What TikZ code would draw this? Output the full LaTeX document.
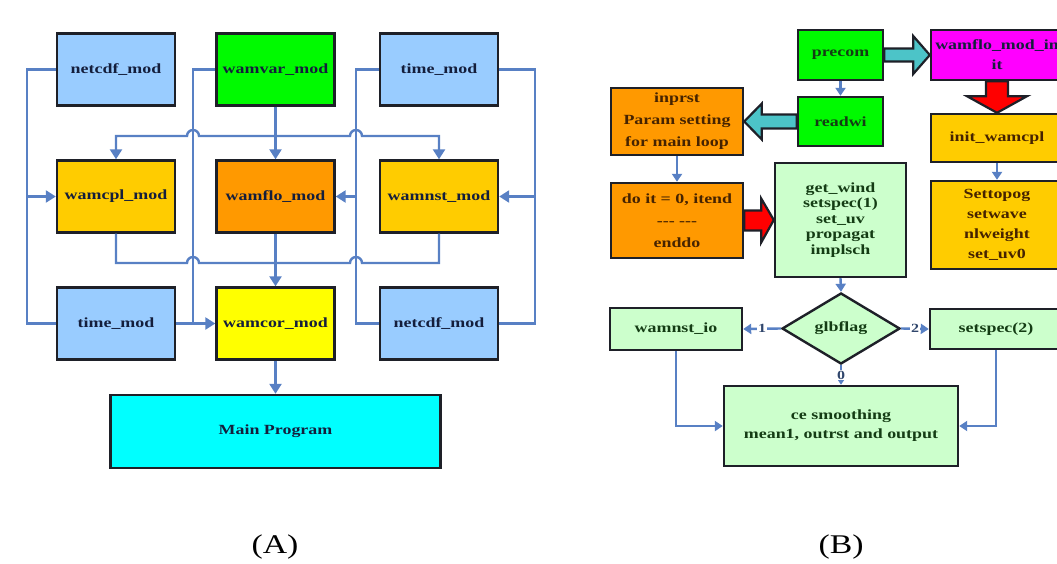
\documentclass[tikz,border=0pt]{standalone}
\usepackage{fontspec}
\usetikzlibrary{arrows.meta,shapes.geometric,calc}
\newfontfamily\boxfont{Liberation Serif}[FakeStretch=1.28]
\newfontfamily\labfont{Liberation Serif}[FakeStretch=1.25]
\definecolor{lblue}{RGB}{153,204,255}
\definecolor{vgreen}{RGB}{0,250,0}
\definecolor{gold}{RGB}{255,204,0}
\definecolor{orng}{RGB}{255,153,0}
\definecolor{yel}{RGB}{255,255,0}
\definecolor{cyn}{RGB}{0,255,255}
\definecolor{magn}{RGB}{255,0,255}
\definecolor{lgreen}{RGB}{204,255,204}
\definecolor{linec}{RGB}{88,128,196}
\definecolor{bord}{RGB}{30,32,40}
\definecolor{teal}{RGB}{76,196,200}
\definecolor{txtA}{RGB}{20,30,60}
\definecolor{txtG}{RGB}{20,60,20}
\definecolor{txtO}{RGB}{70,35,0}
\begin{document}
\begin{tikzpicture}[x=1pt,y=-1pt,
  box/.style={draw=bord,line width=2.4pt,inner sep=2pt,align=center,
    font=\boxfont\bfseries\fontsize{14}{15.5}\selectfont},
  boxA/.style={box,minimum width=118pt,minimum height=72pt,text=txtA},
  conn/.style={draw=linec,line width=2.4pt},
  tip/.style={-{Triangle[length=10pt,width=12pt]}},
  smalltip/.style={-{Triangle[length=8pt,width=10pt]}},
  lab/.style={font=\boxfont\bfseries\fontsize{12.5}{12.5}\selectfont,text=linec!55!black,fill=white,inner sep=1pt},
  fatarrow/.style={draw=bord,line width=2.2pt,line join=miter},
]
\useasboundingbox (0,0) rectangle (1057,563);
\fill[white] (0,0) rectangle (1057,563);

% ---------------- Panel A ----------------
\node[boxA,fill=lblue] (nc1) at (116,69.5) {netcdf\_mod};
\node[boxA,fill=vgreen] (wv) at (275.5,69.5) {wamvar\_mod};
\node[boxA,fill=lblue] (tm1) at (439,69.5) {time\_mod};
\node[boxA,fill=gold] (wc) at (116,196.5) {wamcpl\_mod};
\node[boxA,fill=orng] (wf) at (275.5,196.5) {wamflo\_mod};
\node[boxA,fill=gold] (wn) at (439,196.5) {wamnst\_mod};
\node[boxA,fill=lblue] (tm2) at (116,323.5) {time\_mod};
\node[boxA,fill=yel] (wcor) at (275.5,323.5) {wamcor\_mod};
\node[boxA,fill=lblue] (nc2) at (439,323.5) {netcdf\_mod};
\node[boxA,fill=cyn,minimum width=330pt,minimum height=73pt] (main) at (275.5,431.5) {Main Program};

\coordinate (cL) at (27,196.5);
\coordinate (cM) at (356,196.5);
\coordinate (cR) at (535,196.5);

% left vertical bus
\draw[conn] (nc1.west) -- (27,69.5) -- (27,323.5) -- (tm2.west);
\draw[conn,tip] (cL) -- (wc.west);
% second vertical bus (wamvar)
\draw[conn] (wv.west) -- (193,69.5) -- (193,323.5);
\draw[conn,tip] (tm2.east) -- (wcor.west);
% third vertical bus
\draw[conn] (tm1.west) -- (356,69.5) -- (356,323.5) -- (nc2.west);
\draw[conn,tip] (cM) -- (wf.east);
% right vertical bus
\draw[conn] (tm1.east) -- (535,69.5) -- (535,323.5) -- (nc2.east);
\draw[conn,tip] (cR) -- (wn.east);
% wamvar down
\draw[conn,tip] (wv.south) -- (wf.north);
% upper horizontal with bridges
\draw[conn,{Triangle[length=10pt,width=12pt]}-{Triangle[length=10pt,width=12pt]}]
  (wc.north) -- (116,136) -- (187,136) arc[start angle=180,end angle=0,radius=6pt]
  -- (350,136) arc[start angle=180,end angle=0,radius=6pt] -- (439,136) -- (wn.north);
% lower horizontal with bridges
\draw[conn] (wc.south) -- (116,263) -- (187,263) arc[start angle=180,end angle=0,radius=6pt]
  -- (350,263) arc[start angle=180,end angle=0,radius=6pt] -- (439,263) -- (wn.south);
\draw[conn,tip] (wf.south) -- (wcor.north);
\draw[conn,tip] (wcor.south) -- (main.north);

\node[font=\labfont\fontsize{27}{30}\selectfont] (la) at (275,547) {(A)};

% ---------------- Panel B ----------------
\begin{scope}
\clip (0,0) rectangle (1057,563);
\node[box,fill=vgreen,text=txtG,minimum width=85pt,minimum height=50pt] (precom) at (840.5,55) {precom};
\node[box,fill=magn,text=txtA,minimum width=132pt,minimum height=50pt,font=\boxfont\bfseries\fontsize{14}{20}\selectfont] (wfi) at (997,55) {wamflo\_mod\_in\\it};
\node[box,fill=vgreen,text=txtG,minimum width=85pt,minimum height=49pt] (readwi) at (840.5,121.5) {readwi};
\node[box,fill=orng,text=txtO,minimum width=132pt,minimum height=67pt,font=\boxfont\bfseries\fontsize{14}{22}\selectfont] (inprst) at (677,121.5) {inprst\\Param setting\\for main loop};
\node[box,fill=orng,text=txtO,minimum width=132pt,minimum height=75pt,font=\boxfont\bfseries\fontsize{14}{22}\selectfont] (doit) at (677,220.5) {do it = 0, itend\\--- ---\\enddo};
\node[box,fill=lgreen,text=txtG,minimum width=131pt,minimum height=114pt] (gw) at (840.5,220) {get\_wind\\setspec(1)\\set\_uv\\propagat\\implsch};
\node[box,fill=gold,text=txtO,minimum width=132pt,minimum height=48pt] (iw) at (997,138) {init\_wamcpl};
\node[box,fill=gold,text=txtO,minimum width=132pt,minimum height=88pt,font=\boxfont\bfseries\fontsize{14}{20}\selectfont] (st) at (997,225) {Settopog\\setwave\\nlweight\\set\_uv0};
\node[box,diamond,fill=lgreen,text=txtG,minimum width=118pt,minimum height=71pt,aspect=1.66,inner sep=0pt] (gf) at (841,328.5) {glbflag};
\node[box,fill=lgreen,text=txtG,minimum width=132pt,minimum height=42pt] (wio) at (676,329) {wamnst\_io};
\node[box,fill=lgreen,text=txtG,minimum width=132pt,minimum height=40pt] (ss2) at (996,329) {setspec(2)};
\node[box,fill=lgreen,text=txtG,minimum width=234pt,minimum height=80pt,font=\boxfont\bfseries\fontsize{14}{19}\selectfont] (ce) at (841,426) {ce smoothing\\mean1, outrst and output};
\end{scope}

% thin connectors
\draw[conn,smalltip] (precom.south) -- (readwi.north);
\draw[conn,smalltip] (inprst.south) -- (doit.north);
\draw[conn,smalltip] (iw.south) -- (st.north);
\draw[conn,smalltip] (gw.south) -- (gf.north);
\draw[conn,smalltip] (gf.west) -- node[lab] {1} (wio.east);
\draw[conn,smalltip] (gf.east) -- node[lab] {2} (ss2.west);
\draw[conn,smalltip] (gf.south) -- node[lab] {0} (ce.north);
\draw[conn,smalltip] (wio.south) |- (ce.west);
\draw[conn,smalltip] (ss2.south) |- (ce.east);

% fat block arrows
\filldraw[fatarrow,fill=teal] (precom.east) ++(0,-6.5) -- ++(29,0) -- ++(0,-12.5) -- (wfi.west) -- ($(precom.east)+(29,19)$) -- ++(0,-12.5) -- ($(precom.east)+(0,6.5)$) -- cycle;
\filldraw[fatarrow,fill=teal] (readwi.west) ++(0,-7) -- ++(-35,0) -- ++(0,-11) -- (inprst.east) -- ($(readwi.west)+(-35,18)$) -- ++(0,-11) -- ($(readwi.west)+(0,7)$) -- cycle;
\filldraw[fatarrow,fill=red] (wfi.south) ++(-11,0) -- ++(0,15) -- ++(-19,0) -- (iw.north) -- ($(wfi.south)+(30,15)$) -- ++(-19,0) -- ($(wfi.south)+(11,0)$) -- cycle;
\filldraw[fatarrow,fill=red] (doit.east) ++(0,-10) -- ++(17,0) -- ++(0,-12) -- (gw.west) -- ($(doit.east)+(17,22)$) -- ++(0,-12) -- ($(doit.east)+(0,10)$) -- cycle;

\node[font=\labfont\fontsize{27}{30}\selectfont] (lb) at (841,547) {(B)};
\end{tikzpicture}
\end{document}
